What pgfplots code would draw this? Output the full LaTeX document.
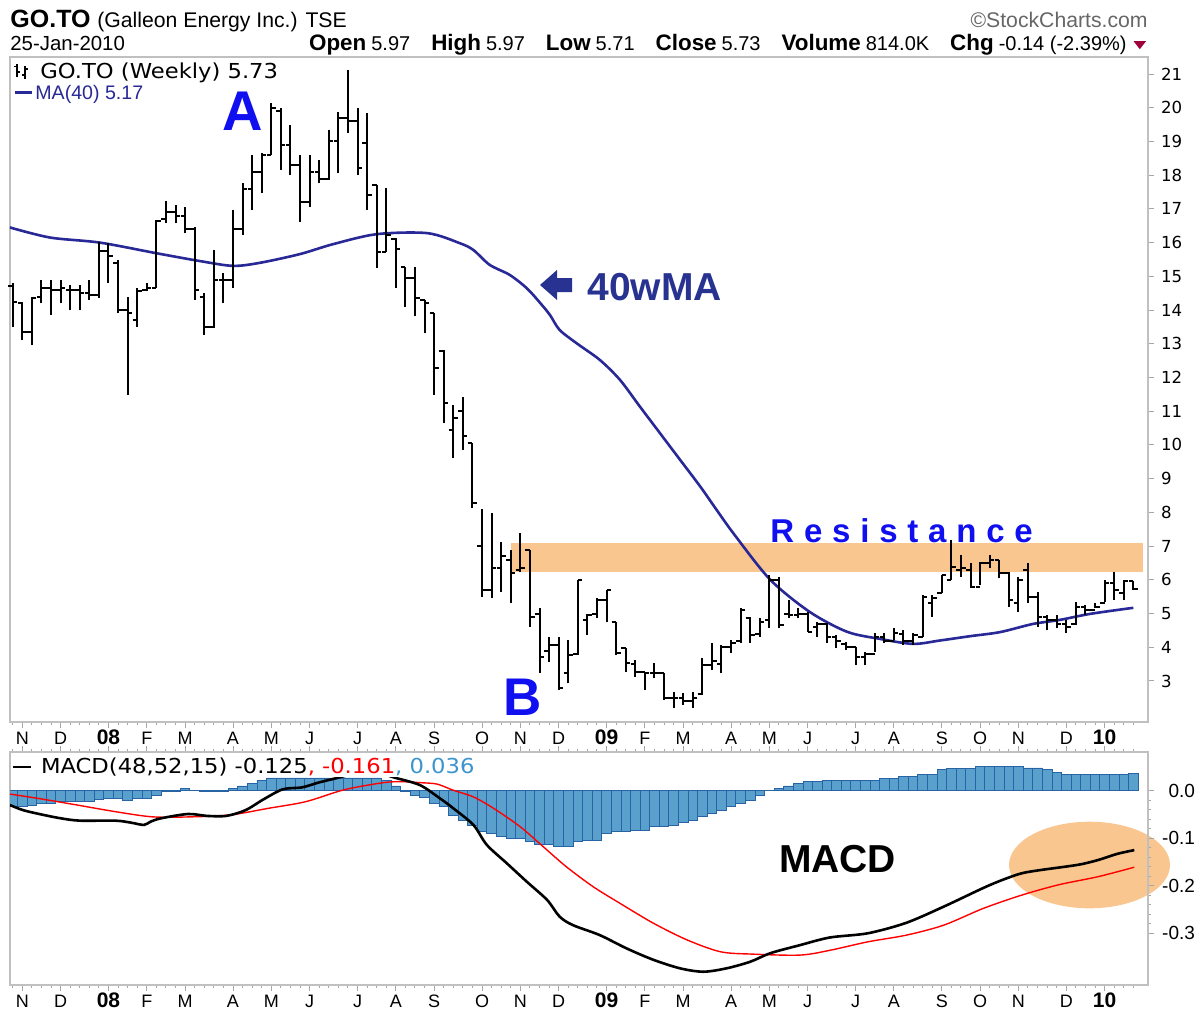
\documentclass[border=0pt]{standalone}
\usepackage{fontspec}
\setmainfont{Liberation Sans}
\newfontfamily\dejavu{DejaVu Sans}
\usepackage{graphicx}
\usepackage{pgfplots}
\usepackage{pgfplotstable}
\pgfplotsset{compat=1.18}

\definecolor{peach}{RGB}{248,198,142}
\definecolor{maBlue}{RGB}{40,40,150}
\definecolor{histFill}{RGB}{90,160,205}
\definecolor{histEdge}{RGB}{40,100,165}
\definecolor{frameGray}{RGB}{192,192,192}
\definecolor{annBlue}{RGB}{15,15,240}
\definecolor{navyTxt}{RGB}{40,50,145}
\definecolor{legBlue}{RGB}{60,150,205}
\definecolor{chgRed}{RGB}{160,0,60}

\pgfdeclareplotmark{openT}{\pgfpathmoveto{\pgfqpoint{-2.3pt}{0pt}}\pgfpathlineto{\pgfqpoint{0pt}{0pt}}\pgfusepathqstroke}
\pgfdeclareplotmark{closeT}{\pgfpathmoveto{\pgfqpoint{0pt}{0pt}}\pgfpathlineto{\pgfqpoint{2.3pt}{0pt}}\pgfusepathqstroke}

\newcommand\hd[1]{{\fontsize{11.2}{12}\selectfont\bfseries #1}\hspace{2.5pt}}
\newcommand\gap{\hspace{10.5pt}}

\pgfplotstableread{
i H L O C
0 14.79 13.51 14.70 14.23
1 14.23 13.11 14.20 13.36
2 14.40 12.96 13.36 14.35
3 14.89 14.20 14.40 14.65
4 14.89 13.85 14.65 14.60
5 14.89 14.20 14.60 14.65
6 14.74 14.00 14.60 14.60
7 14.74 14.00 14.60 14.50
8 14.89 14.30 14.50 14.45
9 16.03 14.35 14.45 15.75
10 15.98 14.79 15.75 15.60
11 15.49 13.90 15.40 14.00
12 14.40 11.48 14.00 13.90
13 14.65 13.51 13.70 14.55
14 14.79 14.55 14.60 14.65
15 16.67 14.65 14.65 16.65
16 17.22 16.57 16.70 16.90
17 17.12 16.57 16.90 16.80
18 17.07 16.28 16.80 16.40
19 16.47 14.30 16.40 14.60
20 14.50 13.26 14.40 13.50
21 15.78 13.46 13.50 14.90
22 15.09 14.20 14.90 14.90
23 16.97 14.65 14.90 16.40
24 17.76 16.23 16.40 17.60
25 18.60 16.97 17.60 18.10
26 18.65 17.46 18.10 18.60
27 20.13 18.60 18.60 20.00
28 19.98 18.15 19.90 18.90
29 19.49 18.00 18.90 18.30
30 18.60 16.62 18.30 17.20
31 18.60 17.07 17.20 18.10
32 18.45 17.76 18.10 17.90
33 19.34 17.86 17.90 19.00
34 19.88 18.05 19.00 19.70
35 21.12 19.24 19.70 19.60
36 19.98 18.00 19.60 18.20
37 19.83 16.97 18.96 17.41
38 17.71 15.24 17.70 15.73
39 17.61 15.73 15.73 16.23
40 16.13 14.65 16.10 15.80
41 15.29 14.10 15.29 14.94
42 15.29 13.81 14.94 14.35
43 14.30 13.31 14.30 14.20
44 13.90 11.48 13.90 12.27
45 12.82 10.64 12.80 11.25
46 11.18 9.60 10.45 10.80
47 11.43 9.85 11.00 10.25
48 10.07 8.12 10.07 8.27
49 8.09 5.50 7.00 5.70
50 7.97 5.45 5.70 6.34
51 7.13 5.65 6.34 6.70
52 6.88 5.30 6.60 6.19
53 7.38 6.24 6.30 6.34
54 6.88 4.61 6.88 4.90
55 5.15 3.23 5.00 3.72
56 4.31 3.57 3.90 4.07
57 4.31 2.73 4.07 2.78
58 4.21 2.93 3.23 3.77
59 5.99 3.77 3.80 5.99
60 5.00 4.36 4.80 4.96
61 5.45 4.86 5.00 5.40
62 5.70 4.76 5.40 5.70
63 4.76 3.77 4.76 3.82
64 3.97 3.28 3.97 3.52
65 3.62 3.13 3.50 3.28
66 3.28 2.73 3.28 3.25
67 3.52 3.08 3.25 3.25
68 3.23 2.44 3.23 2.50
69 2.68 2.19 2.50 2.50
70 2.63 2.29 2.50 2.40
71 2.68 2.19 2.40 2.50
72 3.67 2.58 2.60 3.47
73 4.12 3.33 3.47 3.59
74 4.07 3.23 3.50 4.02
75 4.22 3.82 4.00 4.12
76 5.15 4.12 4.20 5.10
77 4.91 4.12 4.86 4.36
78 4.86 4.31 4.40 4.76
79 6.14 4.56 4.80 6.00
80 6.09 4.56 6.00 4.66
81 5.40 4.86 5.00 4.96
82 5.15 4.86 4.96 5.00
83 5.06 4.46 5.00 4.46
84 4.76 4.31 4.60 4.70
85 4.71 4.12 4.70 4.30
86 4.36 3.97 4.30 4.20
87 4.17 3.92 4.10 4.00
88 4.02 3.47 4.00 3.72
89 3.87 3.47 3.70 3.80
90 4.41 3.87 3.80 4.30
91 4.41 4.12 4.30 4.20
92 4.56 4.22 4.20 4.43
93 4.51 4.07 4.40 4.20
94 4.41 4.07 4.20 4.36
95 5.55 4.31 4.30 5.50
96 5.55 4.91 5.30 5.45
97 6.14 5.60 5.60 6.14
98 7.18 5.99 6.00 6.39
99 6.74 6.09 6.30 6.34
100 6.49 5.75 6.30 5.80
101 6.54 5.85 5.80 6.49
102 6.74 6.34 6.50 6.59
103 6.59 6.04 6.59 6.21
104 6.24 5.20 6.20 5.40
105 6.09 5.06 5.30 5.99
106 6.49 5.30 6.29 5.50
107 5.65 4.61 5.50 4.91
108 4.96 4.51 4.90 4.81
109 4.96 4.56 4.80 4.70
110 4.81 4.41 4.70 4.60
111 5.35 4.66 4.70 5.20
112 5.25 4.96 5.20 5.10
113 5.30 5.15 5.10 5.20
114 5.99 5.35 5.30 5.90
115 6.24 5.40 5.90 5.70
116 5.99 5.40 5.60 5.95
117 5.97 5.71 5.97 5.73
}\ohlc

\pgfplotstableread{
i h
0 -0.034
1 -0.034
2 -0.030
3 -0.027
4 -0.027
5 -0.023
6 -0.023
7 -0.023
8 -0.023
9 -0.018
10 -0.016
11 -0.016
12 -0.020
13 -0.016
14 -0.016
15 -0.009
16 -0.002
17 -0.002
18 0.005
19 0.001
20 -0.002
21 -0.002
22 -0.002
23 0.005
24 0.010
25 0.015
26 0.022
27 0.027
28 0.027
29 0.027
30 0.027
31 0.027
32 0.027
33 0.027
34 0.027
35 0.027
36 0.027
37 0.027
38 0.027
39 0.022
40 0.010
41 -0.002
42 -0.009
43 -0.013
44 -0.027
45 -0.034
46 -0.051
47 -0.062
48 -0.072
49 -0.086
50 -0.090
51 -0.097
52 -0.100
53 -0.100
54 -0.107
55 -0.112
56 -0.112
57 -0.118
58 -0.118
59 -0.107
60 -0.104
61 -0.104
62 -0.090
63 -0.086
64 -0.086
65 -0.083
66 -0.083
67 -0.076
68 -0.076
69 -0.072
70 -0.067
71 -0.062
72 -0.055
73 -0.047
74 -0.041
75 -0.034
76 -0.027
77 -0.020
78 -0.009
79 0.001
80 0.005
81 0.010
82 0.015
83 0.020
84 0.020
85 0.022
86 0.022
87 0.022
88 0.022
89 0.022
90 0.022
91 0.026
92 0.026
93 0.031
94 0.031
95 0.035
96 0.035
97 0.044
98 0.047
99 0.047
100 0.047
101 0.052
102 0.052
103 0.052
104 0.052
105 0.052
106 0.048
107 0.048
108 0.044
109 0.038
110 0.035
111 0.035
112 0.035
113 0.035
114 0.035
115 0.035
116 0.035
117 0.036
}\hist

\pgfplotsset{chartbase/.style={
  scale only axis, width=569pt,
  xmin=-0.282, xmax=118.53,
  axis line style={draw=frameGray, line width=0.8pt},
  tick align=outside,
  major tick length=3pt, minor tick length=1.5pt,
  tick style={draw=gray!70, line width=0.5pt},
  xtick={1,5,10,14,18,23,27,31,36,40,44,49,53,57,62,66,70,75,79,83,88,92,97,101,105,110,114},
  xticklabels={N,D,{\fontsize{10.5}{11}\selectfont\bfseries 08},F,M,A,M,J,J,A,S,O,N,D,{\fontsize{10.5}{11}\selectfont\bfseries 09},F,M,A,M,J,J,A,S,O,N,D,{\fontsize{10.5}{11}\selectfont\bfseries 10}},
  minor xtick={0,1,...,117},
  xticklabel style={font=\fontsize{9}{10}\selectfont, anchor=base, yshift=-8pt},
  yticklabel pos=right, ytick pos=right,
}}

\begin{document}
\begin{tikzpicture}
\useasboundingbox (0,0) rectangle (599.5pt,-506.5pt);

% ---------- header ----------
\node[anchor=base west, inner sep=0] at (5pt,-13.5pt) {\fontsize{12.5}{14}\selectfont\bfseries GO.TO};
\node[anchor=base west, inner sep=0] at (48.5pt,-13.5pt) {\fontsize{10.6}{12}\selectfont (Galleon Energy Inc.) TSE};
\node[anchor=base east, inner sep=0, text=black!60] at (574pt,-13.5pt) {\fontsize{10.6}{12}\selectfont \textcopyright StockCharts.com};
\node[anchor=base west, inner sep=0] at (5pt,-25pt) {\fontsize{10.2}{12}\selectfont 25-Jan-2010};
\node[anchor=base east, inner sep=0] at (563.5pt,-25pt) {\fontsize{10}{12}\selectfont \hd{Open}5.97\gap\hd{High}5.97\gap\hd{Low}5.71\gap\hd{Close}5.73\gap\hd{Volume}814.0K\gap\hd{Chg}-0.14 (-2.39\%)};
\fill[chgRed] (566.8pt,-20.6pt) -- (573pt,-20.6pt) -- (569.9pt,-24.6pt) -- cycle;

% ---------- price panel ----------
\begin{axis}[chartbase,
  at={(5pt,-28.5pt)}, anchor=north west, height=332.5pt,
  ymin=1.783, ymax=21.504,
  ytick={3,4,...,21},
  xtick pos=left,
  yticklabel style={font=\dejavu\fontsize{8.3}{9}\selectfont},
  /pgf/number format/assume math mode=true,
]
\addplot[draw=none, fill=peach, forget plot] coordinates {(52.0,6.23) (118.0,6.23) (118.0,7.09) (52.0,7.09)} -- cycle;
\addplot[maBlue, line width=1.3pt, smooth, tension=0.5, forget plot] coordinates {
(-0.3,16.45) (3.9,16.15) (9.1,16.0) (15.1,15.68) (19.6,15.45) (23.0,15.31) (25.8,15.40)
(30.0,15.66) (33.4,15.95) (38.0,16.25) (43.3,16.28) (46.7,15.98) (48.1,15.78) (49.8,15.34)
(51.9,15.04) (53.7,14.64) (55.1,14.20) (56.1,13.85) (57.1,13.41) (58.9,13.01) (61.3,12.52)
(63.4,11.93) (65.5,11.13) (67.6,10.34) (69.7,9.55) (71.8,8.76) (73.5,8.07) (75.4,7.32)
(79.1,6.0) (83.2,5.05) (87.1,4.46) (90.5,4.25) (94.0,4.10) (96.8,4.20) (100.0,4.33)
(103.1,4.45) (106.5,4.69) (109.3,4.81) (112.5,4.99) (117,5.17)};
\addplot[forget plot, black, line width=1pt, quiver={u=0, v=\thisrow{H}-\thisrow{L}}, mark=none]
  table[x=i, y=L] {\ohlc};
\addplot[forget plot, only marks, mark=openT, black, line width=1pt] table[x=i, y=O] {\ohlc};
\addplot[forget plot, only marks, mark=closeT, black, line width=1pt] table[x=i, y=C] {\ohlc};
\end{axis}

% legend of price panel
\draw[line width=0.6pt] (8.5pt,-32pt) -- (8.5pt,-38.5pt) (7pt,-33.2pt) -- (8.5pt,-33.2pt) (8.5pt,-36pt) -- (10pt,-36pt)
  (12.5pt,-33pt) -- (12.5pt,-39.5pt) (11pt,-37.5pt) -- (12.5pt,-37.5pt) (12.5pt,-34.5pt) -- (14pt,-34.5pt);
\node[anchor=base west, inner sep=0] at (20pt,-39pt) {\scalebox{1.1}[1]{\dejavu\fontsize{10.3}{12}\selectfont GO.TO (Weekly) 5.73}};
\draw[maBlue, line width=1.3pt] (7.5pt,-46.2pt) -- (16pt,-46.2pt);
\node[anchor=base west, inner sep=0, text=maBlue] at (17.5pt,-49.5pt) {\fontsize{9.8}{11}\selectfont MA(40) 5.17};

% annotations
\node[anchor=base, inner sep=0, text=annBlue] at (121.25pt,-65pt) {\fontsize{28}{30}\selectfont\bfseries A};
\node[anchor=base, inner sep=0, text=annBlue] at (261.25pt,-357.5pt) {\fontsize{26.5}{28}\selectfont\bfseries B};
\fill[navyTxt] (270pt,-142.5pt) -- (278.5pt,-135pt) -- (278.5pt,-139pt) -- (286pt,-139pt) -- (286pt,-146pt) -- (278.5pt,-146pt) -- (278.5pt,-150pt) -- cycle;
\node[anchor=base west, inner sep=0, text=navyTxt] at (293.5pt,-150pt) {\fontsize{19.5}{21}\selectfont\bfseries 40wMA};
\node[anchor=base west, inner sep=0, text=annBlue] at (385pt,-271pt) {\fontsize{16.5}{18}\selectfont\bfseries
 R\hspace{4.9pt}e\hspace{4.9pt}s\hspace{4.9pt}i\hspace{4.9pt}s\hspace{4.9pt}t\hspace{4.9pt}a\hspace{4.9pt}n\hspace{4.9pt}c\hspace{4.9pt}e};

% ---------- MACD panel ----------
\fill[peach] (544.75pt,-432.5pt) ellipse [x radius=40.25pt, y radius=21.65pt];
\begin{axis}[chartbase,
  at={(5pt,-376pt)}, anchor=north west, height=116.5pt,
  ymin=-0.409, ymax=0.0815,
  ytick={-0.3,-0.2,-0.1,0}, yticklabels={-0.3,-0.2,-0.1,0.0},
  minor y tick num=4,
  xtick pos=both, xticklabel pos=left,
  yticklabel style={font=\fontsize{9.5}{10}\selectfont, anchor=east, xshift=24pt},
]
\addplot[ybar, bar width=1, bar shift=0pt, fill=histFill, draw=histEdge, line width=0.4pt, forget plot] table[x=i, y=h] {\hist};
\addplot[red, line width=0.7pt, smooth, tension=0.5, forget plot] coordinates {
(-0.3,-0.007) (2.6,-0.016) (6.7,-0.030) (10.7,-0.044) (14.6,-0.055) (18.6,-0.055) (22.7,-0.051)
(26.7,-0.037) (30.6,-0.023) (34.6,0.002) (38.7,0.017) (40.6,0.019) (42.5,0.017) (44.3,0.014)
(46.0,0.001) (48.1,-0.013) (50.2,-0.037) (53.0,-0.076) (55.4,-0.118) (57.8,-0.160) (60.6,-0.202)
(63.4,-0.237) (66.9,-0.279) (70.4,-0.314) (73.9,-0.339) (77.3,-0.344) (82.2,-0.346) (85.3,-0.336)
(89.3,-0.318) (93.3,-0.304) (97.2,-0.283) (101.3,-0.248) (105.3,-0.220) (109.2,-0.198) (113.3,-0.181) (117.1,-0.161)};
\addplot[black, line width=1.3pt, smooth, tension=0.5, forget plot] coordinates {
(-0.3,-0.030) (1.1,-0.041) (3,-0.050) (5.0,-0.058) (7.0,-0.063) (10.7,-0.063) (12.3,-0.067)
(13.7,-0.072) (14.4,-0.065) (15.5,-0.058) (18.3,-0.049) (20.3,-0.053) (22.3,-0.053) (24.3,-0.041)
(26.2,-0.018) (28.2,0.003) (30.2,0.007) (31.9,0.017) (33.7,0.026) (35.7,0.036) (37.8,0.040)
(39.8,0.028) (42.5,0.012) (44.6,-0.016) (46.0,-0.037) (48.1,-0.072) (49.5,-0.114) (51.6,-0.153)
(53.7,-0.192) (55.8,-0.230) (57.1,-0.265) (58.5,-0.283) (61.3,-0.304) (64.1,-0.332) (66.9,-0.356)
(69.7,-0.374) (72.1,-0.381) (74.5,-0.374) (77.0,-0.360) (79.1,-0.342) (82.2,-0.325) (85.3,-0.309)
(89.3,-0.300) (93.3,-0.278) (97.2,-0.244) (101.3,-0.205) (103.3,-0.188) (105.3,-0.174)
(107.3,-0.167) (111.2,-0.156) (113.3,-0.146) (115.3,-0.133) (117.1,-0.125)};
\end{axis}

% MACD legend
\node[anchor=base west, inner sep=0.8pt, fill=white] at (19.5pt,-386.5pt) {\scalebox{1.1}[1]{\dejavu\fontsize{10.3}{12}\selectfont MACD(48,52,15) -0.125\textcolor{red}{, -0.161}\textcolor{legBlue}{, 0.036}}};
\draw[black, line width=1.4pt] (6.5pt,-383.5pt) -- (15.5pt,-383.5pt);
\node[anchor=base, inner sep=0] at (418.75pt,-436pt) {\fontsize{19.5}{21}\selectfont\bfseries MACD};
\end{tikzpicture}
\end{document}
